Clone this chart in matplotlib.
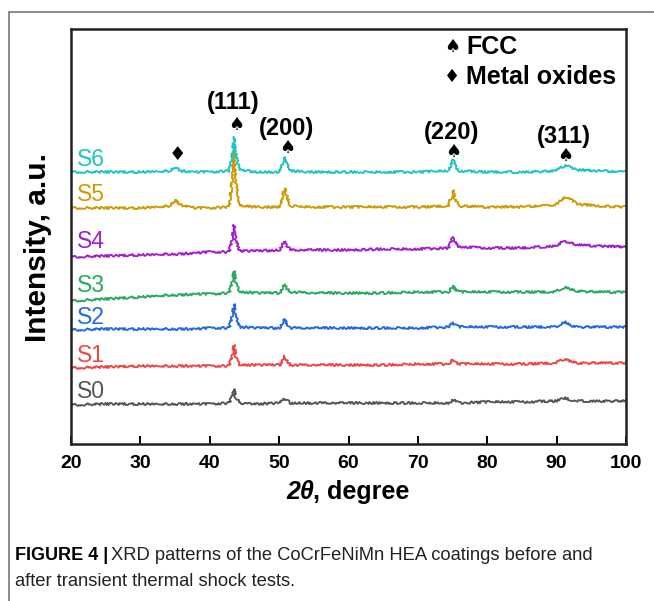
import matplotlib
matplotlib.use("Agg")
import matplotlib.pyplot as plt
from matplotlib.lines import Line2D

plt.rcParams['font.family'] = ['Liberation Sans', 'DejaVu Sans']

W, H = 654, 601

# ---- data (2theta in degree, intensity in a.u.) ----
two_theta = [20, 25, 30, 34.2, 35.0, 35.8, 38, 40, 42.8, 43.25, 43.5, 43.75, 44.3, 47,
             50.1, 50.55, 50.8, 51.05, 51.6, 55, 60, 65, 70, 74.4, 74.85, 75.1, 75.35, 75.9,
             80, 85, 89.8, 90.8, 91.3, 91.9, 93, 96, 100]

S0 = [39, 40, 40, 40, 40, 40, 40, 40, 41, 48, 55, 47, 41, 40,
      41, 44, 45, 44, 41, 41, 41, 41, 41, 41, 43, 44, 43, 41,
      42, 42, 43, 45, 46, 44, 43, 43, 43]
S1 = [76, 77, 78, 78, 78, 78, 78, 78, 78, 89, 99, 88, 79, 79,
      79, 85, 88, 84, 79, 79, 79, 79, 80, 80, 83, 84, 82, 80,
      80, 80, 81, 84, 86, 83, 81, 81, 81]
S2 = [114, 115, 115, 115, 115, 115, 115, 116, 116, 129, 140, 128, 117, 116,
      116, 122, 125, 121, 116, 116, 116, 116, 116, 117, 120, 121, 119, 117,
      117, 117, 117, 121, 122, 119, 117, 117, 117]
S3 = [143, 145, 147, 149, 149, 149, 150, 150, 151, 163, 173, 162, 152, 151,
      151, 157, 160, 156, 152, 151, 151, 151, 152, 152, 156, 158, 155, 152,
      152, 152, 152, 156, 157, 155, 153, 152, 152]
S4 = [187, 188, 189, 190, 190, 190, 191, 192, 192, 206, 219, 205, 193, 193,
      194, 200, 203, 199, 194, 194, 194, 195, 195, 196, 203, 207, 202, 197,
      196, 196, 198, 202, 203, 201, 199, 198, 197]
S5 = [236, 236, 236, 238, 244, 239, 236, 236, 237, 266, 300, 262, 238, 237,
      237, 250, 256, 249, 238, 237, 237, 237, 237, 238, 248, 254, 246, 238,
      237, 237, 239, 245, 247, 245, 240, 238, 237]
S6 = [272, 272, 272, 273, 277, 273, 272, 272, 273, 290, 307, 289, 274, 272,
      272, 282, 287, 281, 273, 272, 272, 272, 272, 273, 280, 284, 279, 273,
      272, 272, 273, 277, 279, 277, 274, 273, 272]

sample_names = ["S0", "S1", "S2", "S3", "S4", "S5", "S6"]
series = [S0, S1, S2, S3, S4, S5, S6]
colors = ["#555555", "#f04545", "#2469e0", "#2aa85e", "#a21fc9", "#cf9a06", "#21c3c3"]
label_y_px = [392, 356, 317, 286, 242, 195, 159]

fcc_peaks = ["(111)", "(200)", "(220)", "(311)"]
xticks = [20, 30, 40, 50, 60, 70, 80, 90, 100]

# ---- figure ----
fig = plt.figure(figsize=(W / 100, H / 100), dpi=100)
renderer = fig.canvas.get_renderer()

def fx(px):
    return px / W

def fy(py):
    return 1 - py / H

# outer frame (top and left rules)
fig.add_artist(Line2D([fx(9), fx(653)], [fy(12), fy(12)], color="#8a8a8a", lw=1.4))
fig.add_artist(Line2D([fx(9), fx(9)], [fy(12), fy(601)], color="#8a8a8a", lw=1.4))

ax = fig.add_axes([fx(71), fy(444), fx(626) - fx(71), fy(29) - fy(444)])
ax.set_xlim(20, 100)
ax.set_ylim(0, 415)

for name, ys, c in zip(sample_names, series, colors):
    ln, = ax.plot(two_theta, ys, color=c, lw=1.35)
    ln.set_sketch_params(scale=1.1, length=0.55, randomness=2.0)

for s in ax.spines.values():
    s.set_linewidth(1.8)
    s.set_color("#222222")

ax.set_xticks(xticks)
ax.set_xticklabels([str(t) for t in xticks])
ax.tick_params(axis="x", direction="in", length=6, width=1.4, labelsize=14, pad=8)
ax.set_yticks([])
for lab in ax.get_xticklabels():
    lab.set_fontweight("bold")

# x label: italic bold "2θ" followed by bold ", degree"
t1 = fig.text(0, fy(492), "2\u03b8", fontsize=18, fontweight="bold", fontstyle="italic",
              ha="left", va="center")
t2 = fig.text(0, fy(492), ", degree", fontsize=18, fontweight="bold",
              ha="left", va="center")
w1 = t1.get_window_extent(renderer).width
w2 = t2.get_window_extent(renderer).width
start = 349 - (w1 + w2) / 2
t1.set_x(fx(start))
t2.set_x(fx(start + w1 - 2))

fig.text(fx(38), fy(247), "Intensity, a.u.", fontsize=21.5, fontweight="bold",
         rotation=90, ha="center", va="center")

# sample labels
for name, c, py in zip(sample_names, colors, label_y_px):
    fig.text(fx(77), fy(py), name, color=c, fontsize=16.5, ha="left", va="center")

# peak annotations
ann = [(233, 102, 236, 125),
       (287, 128, 287, 148),
       (452, 133, 453, 152),
       (564, 137, 565, 156)]
for (tx, ty, sx, sy), lbl in zip(ann, fcc_peaks):
    fig.text(fx(tx), fy(ty), lbl, fontsize=17, fontweight="bold",
             ha="center", va="center")
    fig.text(fx(sx), fy(sy), "\u2660", fontsize=13, ha="center", va="center",
             family=["DejaVu Sans"])
fig.text(fx(177), fy(155), "\u2666", fontsize=14, ha="center", va="center",
         family=["DejaVu Sans"])

# legend
fig.text(fx(452), fy(47), "\u2660", fontsize=13, ha="center", va="center",
         family=["DejaVu Sans"])
fig.text(fx(466), fy(47), "FCC", fontsize=18, fontweight="bold", ha="left", va="center")
fig.text(fx(452), fy(77), "\u2666", fontsize=13, ha="center", va="center",
         family=["DejaVu Sans"])
fig.text(fx(466), fy(77), "Metal oxides", fontsize=18, fontweight="bold",
         ha="left", va="center")

# caption
c1 = fig.text(fx(15), fy(556), "FIGURE 4 |", fontsize=13, fontweight="bold",
              ha="left", va="center")
cw = c1.get_window_extent(renderer).width
fig.text(fx(15 + cw + 3), fy(556), "XRD patterns of the CoCrFeNiMn HEA coatings before and",
         fontsize=13.2, ha="left", va="center", color="#222222")
fig.text(fx(15), fy(581), "after transient thermal shock tests.",
         fontsize=13.2, ha="left", va="center", color="#222222")

fig.savefig("out.png", dpi=100)
